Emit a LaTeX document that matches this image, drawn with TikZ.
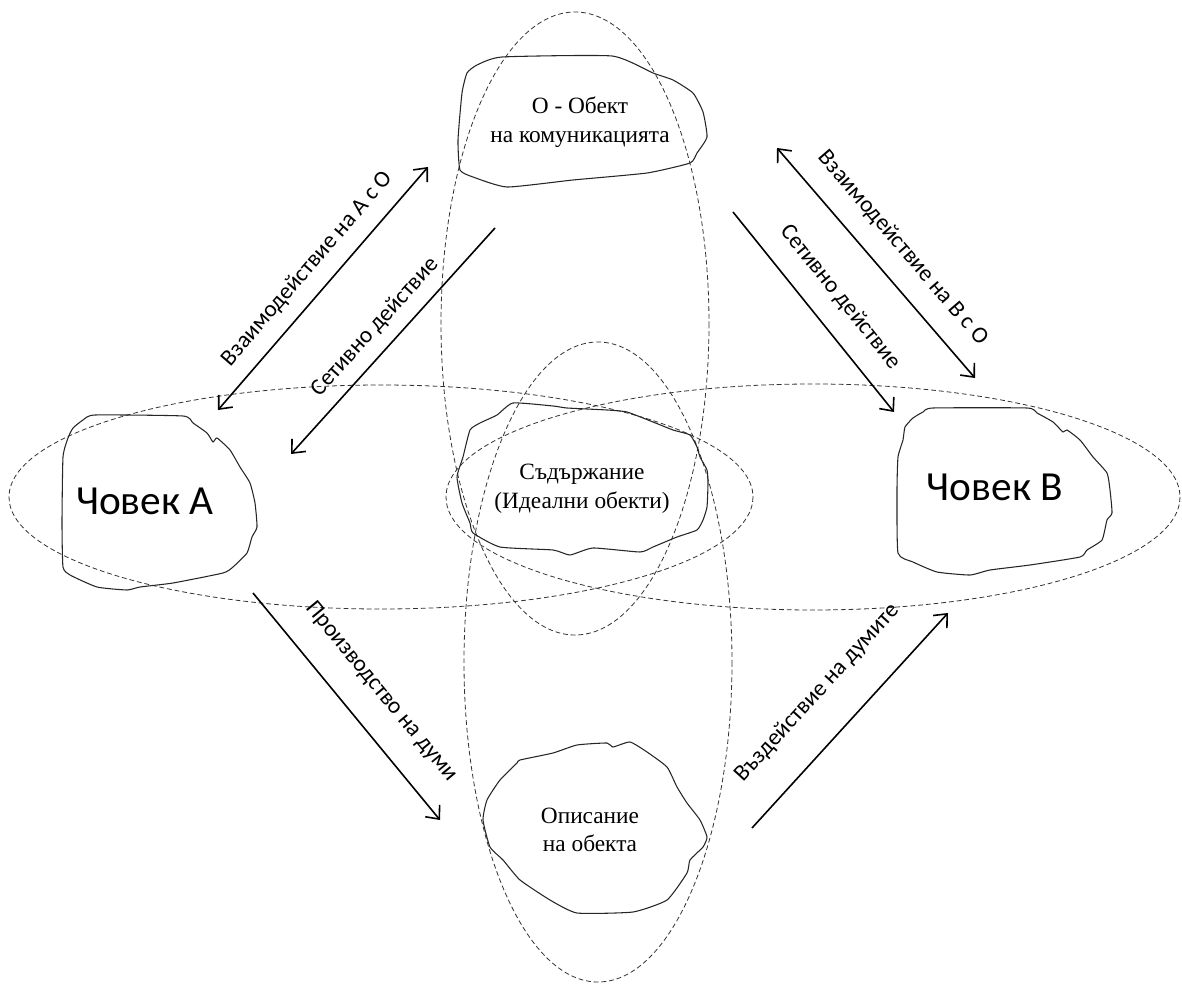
\documentclass[tikz,border=0pt]{standalone}
\usepackage{fontspec}
\setmainfont{Liberation Serif}
\newfontfamily\calfont{Carlito}
\usetikzlibrary{arrows.meta}

\tikzset{
  oval/.style={draw=black!80, line width=0.6pt, dash pattern=on 3.6pt off 2.2pt},
  blob/.style={draw=black!85, line width=0.8pt},
  barb/.tip={Straight Barb[length=8pt,width=14pt]},
  flow/.style={line width=1.2pt, -barb},
  twoway/.style={line width=1.2pt, barb-barb},
  lbl/.style={font=\calfont\fontsize{17.5}{20}\selectfont, inner sep=0pt},
  txt/.style={font=\fontsize{17.5}{21.5}\selectfont, align=center, inner sep=0pt},
  big/.style={font=\calfont\fontsize{31}{36}\selectfont, inner sep=0pt},
}

\begin{document}
\begin{tikzpicture}[x=0.75pt,y=0.75pt,yscale=-1,xscale=1]
\useasboundingbox (0,0) rectangle (1182,984);

%Shape: Ellipse upper
\draw[oval] (575,323.5) ellipse (134 and 311.5);
%Shape: Ellipse lower
\draw[oval] (598,662) ellipse (134 and 320);
%Shape: Ellipse left
\draw[oval] (381,497) ellipse (372 and 112);
%Shape: Ellipse right
\draw[oval] (813,497) ellipse (367 and 113);

%Shape: Blob object
\draw[blob] plot[smooth cycle, tension=0.3] coordinates {(502,57) (612,56) (653,73) (673,80) (693,93) (703,112) (707,137) (697,153) (690,163) (647,173) (573,180) (507,187) (473,177) (460,170) (458,140) (462,93) (467,73) (477,65)};
%Shape: Blob person A
\draw[blob] plot[smooth cycle, tension=0.3] coordinates {(95,415) (183,416) (193,423) (207,433) (213,442) (217,438) (230,450) (240,467) (250,483) (255,503) (257,527) (252,537) (247,553) (233,567) (223,573) (173,583) (140,587) (127,590) (97,587) (70,575) (63,567) (62,523) (63,457) (68,438) (73,428) (83,420)};
%Shape: Blob person B
\draw[blob] plot[smooth cycle, tension=0.3] coordinates {(933,408) (1027,408) (1037,413) (1053,422) (1063,432) (1067,430) (1080,440) (1093,457) (1107,473) (1110,490) (1112,513) (1107,520) (1102,540) (1087,550) (1080,557) (1030,565) (990,570) (970,575) (937,572) (913,562) (898,553) (897,490) (898,457) (903,440) (905,427) (913,418) (923,412)};
%Shape: Blob content
\draw[blob] plot[smooth cycle, tension=0.3] coordinates {(513,403) (553,406) (567,408) (607,410) (627,412) (653,422) (673,430) (690,435) (697,447) (700,457) (707,470) (708,483) (707,507) (703,520) (697,530) (677,537) (653,547) (640,552) (593,548) (570,555) (553,550) (500,547) (473,533) (470,523) (462,503) (457,477) (463,457) (470,430) (480,423) (497,415)};
%Shape: Blob description
\draw[blob] plot[smooth cycle, tension=0.3] coordinates {(520,760) (553,753) (577,745) (607,743) (613,747) (630,742) (647,752) (667,767) (677,787) (687,803) (700,820) (707,837) (703,847) (690,860) (687,873) (667,900) (633,912) (577,913) (550,900) (520,880) (503,860) (490,847) (483,820) (487,800) (500,780) (517,763)};

% Text Node
\node[txt] (obj) at (580,122) {О - Обект\\на комуникацията};
% Text Node
\node[big] (persA) at (145,501) {Човек А};
% Text Node
\node[big] (persB) at (995,487) {Човек В};
% Text Node
\node[txt] (cont) at (582,489) {Съдържание\\(Идеални обекти)};
% Text Node
\node[txt] (descr) at (590,830) {Описание\\на обекта};

% arrow ends
\coordinate (aoA) at (218,410);
\coordinate (aoO) at (428,167);
\coordinate (snLo) at (495,228);
\coordinate (snLa) at (291,454);
\coordinate (boO) at (777,148);
\coordinate (boB) at (975,378);
\coordinate (snRo) at (733,212);
\coordinate (snRb) at (894,412);
\coordinate (prA) at (253,593);
\coordinate (prD) at (440,820);
\coordinate (vdD) at (752,828);
\coordinate (vdB) at (948,613);

%Straight Lines
\draw[twoway] (aoA) -- (aoO);
\draw[flow] (snLo) -- (snLa);
\draw[twoway] (boO) -- (boB);
\draw[flow] (snRo) -- (snRb);
\draw[flow] (prA) -- (prD);
\draw[flow] (vdD) -- (vdB);

% Text Node
\node[lbl, rotate=49.2] (lblAO) at (307,269) {Взаимодействие на А с О};
% Text Node
\node[lbl, rotate=47.9] (lblSL) at (375,327) {Сетивно действие};
% Text Node
\node[lbl, rotate=-49.3] (lblBO) at (903,248) {Взаимодействие на В с О};
% Text Node
\node[lbl, rotate=-51.2] (lblSR) at (840,297) {Сетивно действие};
% Text Node
\node[lbl, rotate=-50.5] (lblPr) at (381,692) {Производство на думи};
% Text Node
\node[lbl, rotate=47.6] (lblVd) at (817,693) {Въздействие на думите};

\end{tikzpicture}
\end{document}
